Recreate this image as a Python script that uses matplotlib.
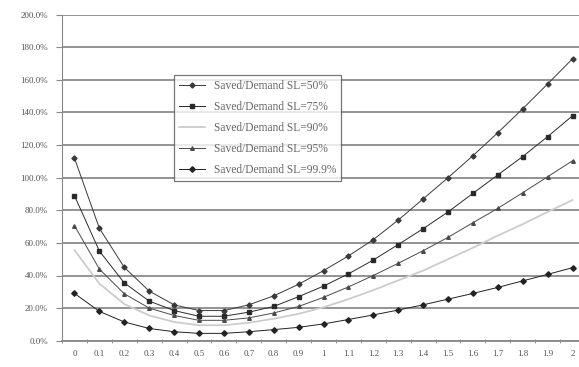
import numpy as np
import matplotlib
matplotlib.use('Agg')
import matplotlib.pyplot as plt
from matplotlib.ticker import FuncFormatter

# category axis 0 .. 2
x_labels = ['0', '0.1', '0.2', '0.3', '0.4', '0.5', '0.6', '0.7', '0.8', '0.9', '1',
            '1.1', '1.2', '1.3', '1.4', '1.5', '1.6', '1.7', '1.8', '1.9', '2']

# values in percent
sl_50 = [112, 69, 45, 30.5, 22, 18.5, 18.5, 22, 27.5, 34.6, 43,
         52, 62, 74, 87, 100, 113.5, 127.6, 142.3, 157.5, 173]
sl_75 = [89, 55, 35.5, 24.3, 18.5, 15, 15, 17.5, 21, 27, 33.5,
         41, 49.5, 59, 68.7, 79, 90.4, 101.7, 113, 125.2, 138]
sl_90 = [55.6, 35, 22.5, 15.5, 11.5, 9.5, 9.5, 11, 13.5, 16.5, 20.5,
         25.5, 31, 37, 43, 50, 57, 64.5, 71.5, 79, 86.3]
sl_95 = [70.6, 44, 28.8, 20, 15.5, 12.5, 12.5, 14, 17, 21, 26.6,
         33, 40, 47.5, 55.2, 63.4, 72.4, 81.2, 90.8, 100.6, 110.4]
sl_999 = [29, 18, 11.5, 7.5, 5.5, 4.5, 4.5, 5.5, 6.8, 8.2, 10.3,
          13, 15.8, 18.8, 22, 25.5, 29, 32.7, 36.7, 40.7, 44.8]

series = [('Saved/Demand SL=50%', sl_50),
          ('Saved/Demand SL=75%', sl_75),
          ('Saved/Demand SL=90%', sl_90),
          ('Saved/Demand SL=95%', sl_95),
          ('Saved/Demand SL=99.9%', sl_999)]

styles = [dict(color='#3a3a3a', marker='D', markersize=2.6),
          dict(color='#2a2a2a', marker='s', markersize=2.6),
          dict(color='#cccccc', marker='', markersize=0, linewidth=1.3),
          dict(color='#4a4a4a', marker='^', markersize=2.6),
          dict(color='#222222', marker='D', markersize=2.8)]

plt.rcParams['font.family'] = ['Liberation Serif', 'DejaVu Serif']

fig = plt.figure(figsize=(5.79, 3.67), dpi=100)
ax = fig.add_axes([62 / 579, 26.3 / 367, 523 / 579, 326 / 367])

xs = np.arange(len(x_labels))
for (name, vals), st in zip(series, styles):
    opts = dict(linewidth=0.7)
    opts.update(st)
    ax.plot(xs, vals, label=name, **opts)

ax.set_xlim(-0.5, len(x_labels) - 0.5)
ax.set_ylim(0, 200)
ax.set_yticks(np.arange(0, 201, 20))
ax.yaxis.set_major_formatter(FuncFormatter(lambda v, p: '%.1f%%' % v))
ax.set_xticks(xs)
ax.set_xticklabels(x_labels)
ax.set_xticks(np.arange(-0.5, len(x_labels), 1), minor=True)
ax.tick_params(axis='x', which='major', length=0, pad=7, labelsize=6.5, colors='#555555')
ax.tick_params(axis='x', which='minor', length=3, direction='inout', color='#888888')
ax.tick_params(axis='y', length=4, color='#888888', labelsize=6.5, colors='#555555', pad=6)

ax.grid(axis='y', color='#8a8a8a', linewidth=1.3)
ax.set_axisbelow(True)
for s in ['top', 'right']:
    ax.spines[s].set_visible(False)
ax.spines['left'].set_color('#888888')
ax.spines['bottom'].set_color('#888888')
ax.spines['bottom'].set_linewidth(1.3)

leg = ax.legend(loc='upper left', bbox_to_anchor=((174 - 62) / 523, (340.7 - 75) / 326),
                fontsize=8.3, frameon=True, fancybox=False, edgecolor='#555555',
                handlelength=2.2, borderpad=0.45, labelspacing=0.78, borderaxespad=0)
leg.get_frame().set_linewidth(0.9)
for t in leg.get_texts():
    t.set_color('#666666')

fig.savefig('out.png', dpi=100)
